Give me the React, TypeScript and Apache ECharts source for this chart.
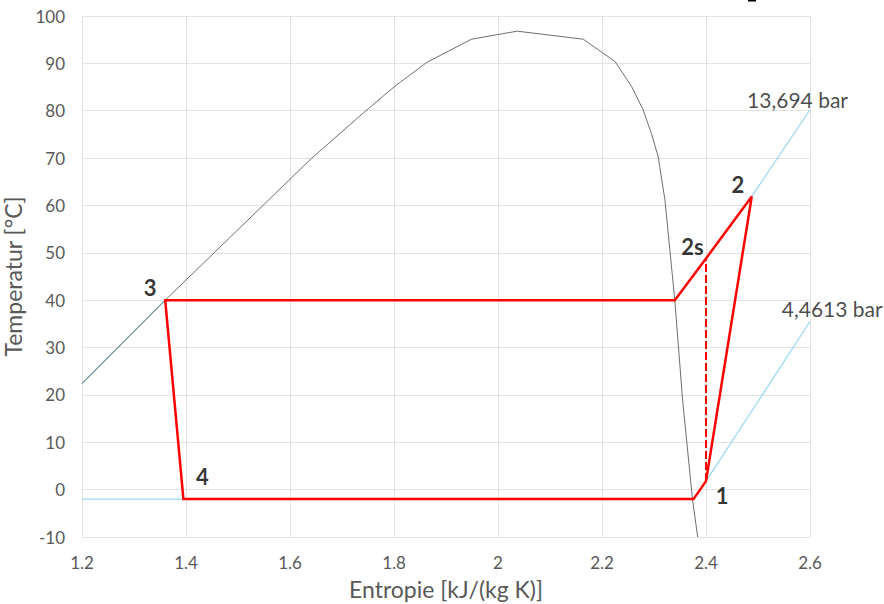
import React, { useEffect, useRef } from "react";
import * as echarts from "echarts";

// Saturation dome (entropy s [kJ/(kg K)], temperature T [°C])
const domeS = [1.2, 1.36, 1.454, 1.548, 1.642, 1.746, 1.802, 1.863, 1.949, 2.037, 2.164, 2.225, 2.257, 2.279, 2.295, 2.308, 2.321, 2.34, 2.355, 2.374, 2.384];
const domeT = [22.4, 40, 50, 60, 70, 80, 85.2, 90.2, 95.1, 96.8, 95.1, 90.4, 85.1, 80.2, 75.2, 70.3, 61.2, 40, 18.9, -2, -10];

// Isobar 13,694 bar
const hpS = [1.2, 1.36, 2.34, 2.4, 2.488, 2.6];
const hpT = [22.4, 40, 40, 48.8, 61.9, 80.2];

// Isobar 4,4613 bar
const lpS = [1.2, 2.376, 2.4, 2.5, 2.6];
const lpT = [-2, -2, 1.8, 18.6, 35.5];

// Cycle 1 -> 2 -> 2s -> sat. vapour -> 3 -> 4 -> sat. -> 1
const cycleS = [2.4, 2.488, 2.4, 2.34, 1.36, 1.395, 2.376, 2.4];
const cycleT = [1.8, 61.9, 48.8, 40, 40, -2, -2, 1.8];

// Isentropic compression 1 -> 2s
const isenS = [2.4, 2.4];
const isenT = [1.8, 48.8];

// Point labels
const pointNames = ["1", "2", "2s", "3", "4"];
const pointS = [2.431, 2.4615, 2.374, 1.3308, 1.4317];
const pointT = [-1.3, 64.5, 51.4, 42.7, 2.7];

// Pressure labels
const pressNames = ["13,694 bar", "4,4613 bar"];
const pressS = [2.576, 2.6427];
const pressT = [82.4, 38.3];

const xTicks = { min: 1.2, max: 2.6, interval: 0.2 };
const yTicks = { min: -10, max: 100, interval: 10 };

const zip = (a: number[], b: number[]) => a.map((v, i) => [v, b[i]]);

export default function App() {
  const ref = useRef<HTMLDivElement>(null);
  useEffect(() => {
    const chart = echarts.init(ref.current!, null, { renderer: "svg" });
    const font = "Lato, 'Open Sans', sans-serif";
    const gridColor = "#e3e3e3";
    chart.setOption({
      animation: false,
      backgroundColor: "#ffffff",
      textStyle: { fontFamily: font },
      grid: { left: 82, right: 74, top: 16, bottom: 67, containLabel: false, outerBoundsMode: "none" },
      xAxis: {
        type: "value",
        min: xTicks.min,
        max: xTicks.max,
        interval: xTicks.interval,
        name: "Entropie [kJ/(kg K)]",
        nameLocation: "middle",
        nameGap: 40,
        nameTextStyle: { fontSize: 23, color: "#595959", fontFamily: font },
        axisLine: { show: true, lineStyle: { color: gridColor, width: 1 } },
        axisTick: { show: false },
        axisLabel: {
          color: "#595959",
          fontSize: 17,
          margin: 17,
          fontFamily: font,
          formatter: (v: number) => String(parseFloat(v.toFixed(1))),
        },
        splitLine: { show: true, lineStyle: { color: gridColor, width: 1 } },
      },
      yAxis: {
        type: "value",
        min: yTicks.min,
        max: yTicks.max,
        interval: yTicks.interval,
        name: "Temperatur [°C]",
        nameLocation: "middle",
        nameRotate: 90,
        nameGap: 46,
        nameTextStyle: { fontSize: 23, color: "#595959", fontFamily: font },
        axisLine: { show: true, lineStyle: { color: gridColor, width: 1 } },
        axisTick: { show: false },
        axisLabel: { color: "#595959", fontSize: 17, margin: 17, fontFamily: font },
        splitLine: { show: true, lineStyle: { color: gridColor, width: 1 } },
      },
      graphic: [
        { type: "rect", shape: { x: 748, y: 0, width: 8, height: 1.5 }, style: { fill: "#000" }, silent: true },
      ],
      series: [
        {
          type: "line",
          name: "hp",
          data: zip(hpS, hpT),
          symbol: "none",
          silent: true,
          lineStyle: { color: "#93d6f2", width: 1.2 },
          z: 2,
        },
        {
          type: "line",
          name: "lp",
          data: zip(lpS, lpT),
          symbol: "none",
          silent: true,
          lineStyle: { color: "#93d6f2", width: 1.2 },
          z: 2,
        },
        {
          type: "line",
          name: "dome",
          data: zip(domeS, domeT),
          symbol: "none",
          silent: true,
          lineStyle: { color: "#6e6e6e", width: 1 },
          z: 3,
        },
        {
          type: "line",
          name: "isentrop",
          data: zip(isenS, isenT),
          symbol: "none",
          silent: true,
          lineStyle: { color: "#ff0000", width: 2, type: [8, 3] },
          z: 4,
        },
        {
          type: "line",
          name: "cycle",
          data: zip(cycleS, cycleT),
          symbol: "none",
          silent: true,
          lineStyle: { color: "#ff0000", width: 2.5, join: "miter" },
          z: 5,
        },
        {
          type: "scatter",
          name: "points",
          data: pointS.map((s, i) => [s, pointT[i], pointNames[i]]),
          symbolSize: 1,
          itemStyle: { color: "rgba(0,0,0,0)" },
          silent: true,
          clip: false,
          z: 6,
          label: {
            show: true,
            position: "inside",
            formatter: (p: any) => p.data[2],
            fontSize: 22,
            fontWeight: "bold",
            color: "#000000",
            fontFamily: font,
          },
        },
        {
          type: "scatter",
          name: "pressures",
          data: pressS.map((s, i) => [s, pressT[i], pressNames[i]]),
          symbolSize: 1,
          itemStyle: { color: "rgba(0,0,0,0)" },
          silent: true,
          clip: false,
          z: 6,
          label: {
            show: true,
            position: "inside",
            formatter: (p: any) => p.data[2],
            fontSize: 21,
            color: "#1a1a1a",
            fontFamily: font,
          },
        },
      ],
    });
    return () => chart.dispose();
  }, []);
  return (
    <div
      ref={ref}
      style={{ position: "fixed", left: 0, top: 0, width: 884, height: 604, background: "#fff" }}
    />
  );
}
